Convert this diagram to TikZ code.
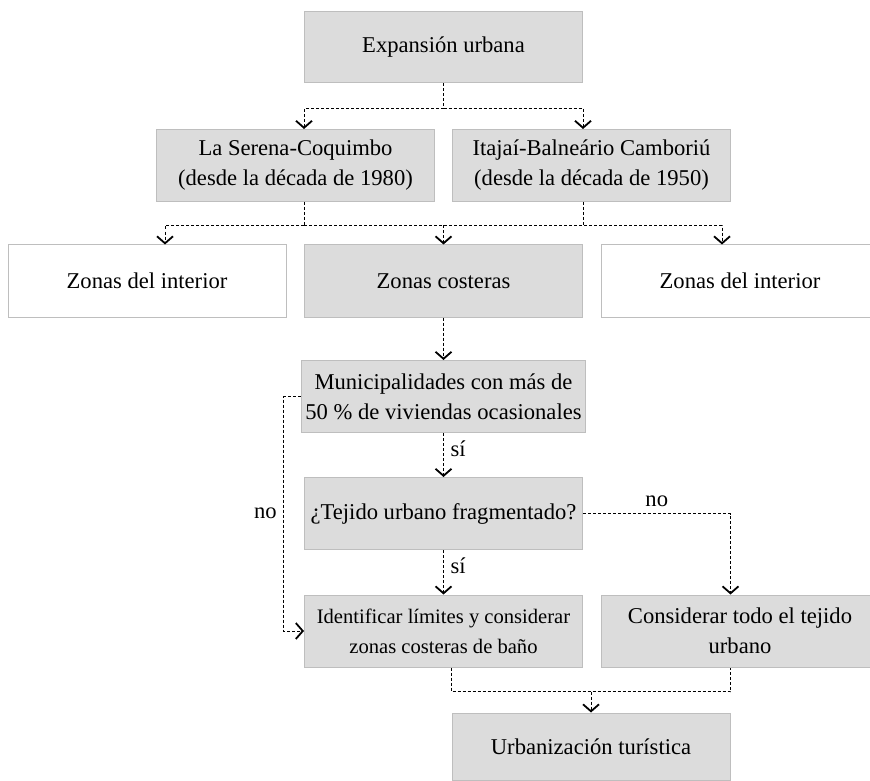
\documentclass[tikz,border=0pt]{standalone}
\usepackage{fontspec}
\setmainfont{Liberation Serif}
\usetikzlibrary{arrows.meta}
\definecolor{boxfill}{RGB}{220,220,220}
\definecolor{boxline}{RGB}{190,190,190}
\begin{document}
\begin{tikzpicture}[x=0.5pt, y=-0.5pt,
  font=\fontsize{11.3}{15}\selectfont,
  box/.style={draw=boxline, fill=boxfill, line width=0.5pt, minimum width=139pt, minimum height=36pt, inner sep=2pt, align=center},
  openbox/.style={box, fill=white},
  link/.style={dash pattern=on 1.5pt off 1pt, line width=0.5pt},
  tip/.style={-{Straight Barb[length=3.5pt, width=8pt, line width=0.9pt]}}]
  \useasboundingbox (0,0) rectangle (870,780);

  \node (exp) at (443.5, 47.5) [box, minimum height=35.5pt] {Expansión urbana};
  \node (ser) at (295.5, 165.5) [box] {La Serena-Coquimbo\\(desde la década de 1980)};
  \node (ita) at (591.5, 165.5) [box] {Itajaí-Balneário Camboriú\\(desde la década de 1950)};
  \node (int1) at (147, 281) [openbox] {Zonas del interior};
  \node (cos) at (443.5, 281) [box] {Zonas costeras};
  \node (int2) at (740, 281) [openbox] {Zonas del interior};
  \node (mun) at (443.5, 396.5) [box] {Municipalidades con más de\\50~\% de viviendas ocasionales};
  \node (tej) at (443.5, 513.5) [box] {¿Tejido urbano fragmentado?};
  \node (ide) at (443.5, 631) [box, font=\fontsize{10.3}{15}\selectfont] {Identificar límites y considerar\\zonas costeras de baño};
  \node (con) at (740, 631) [box] {Considerar todo el tejido\\urbano};
  \node (urb) at (591, 746.5) [box, minimum height=33.5pt] {Urbanización turística};

  % expansion splits into the two cities
  \draw[link] (exp.south) -- ++(0,25) coordinate (k1);
  \draw[link, tip] (k1) -| (ser.north -| exp.south west);
  \draw[link, tip] (k1) -| (ita.north -| exp.south east);

  % cities into zones
  \draw[link] (ser.south -| exp.south west) -- ++(0,23.5) coordinate (k2);
  \draw[link] (ita.south -| exp.south east) -- (k2 -| exp.south east);
  \draw[link, tip] (k2) -| ([xshift=9pt]int1.north);
  \draw[link, tip] (k2 -| cos.north) -- (cos.north);
  \draw[link, tip] (k2) -| ([xshift=-9pt]int2.north);

  % decisions
  \draw[link, tip] (cos) -- (mun);
  \draw[link, tip] (mun) -- node[pos=0.35, right] {sí} (tej);
  \draw[link, tip] (tej) -- node[pos=0.35, right] {sí} (ide);
  \draw[link, tip] (mun.west) -- ++(-17,0) |- node[pos=0.25, left] {no} (ide.west);
  \draw[link, tip] (tej.east) -| node[pos=0.25, above] {no} (con.north -| urb.east);

  % both ways end in urbanizacion
  \draw[link] (ide.south -| urb.west) -- ++(0,24) coordinate (k3) -| (con.south -| urb.east);
  \draw[link, tip] (k3 -| urb.north) -- (urb.north);
\end{tikzpicture}
\end{document}
